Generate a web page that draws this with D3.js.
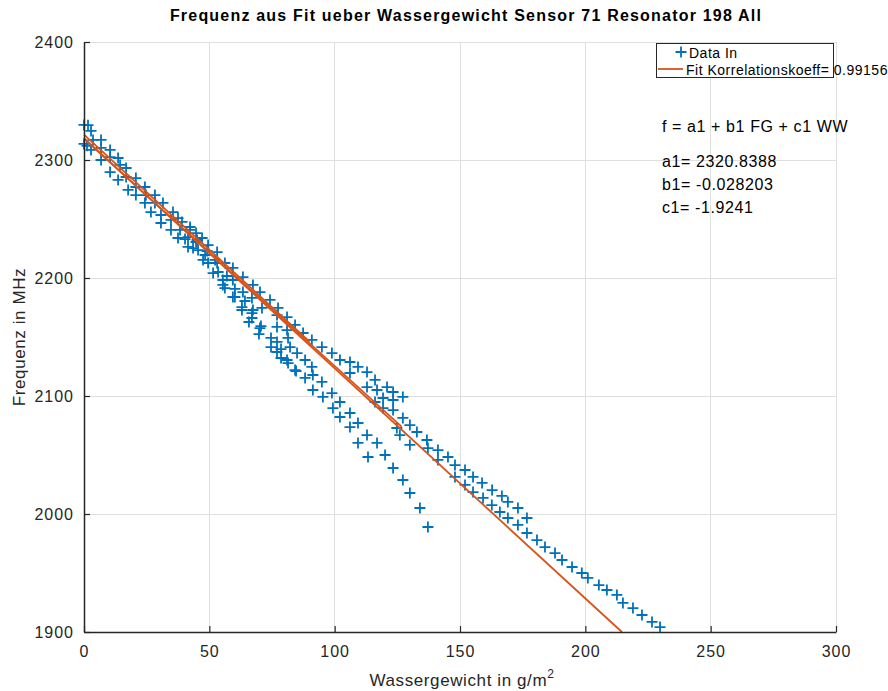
<!DOCTYPE html>
<html>
<head>
<meta charset="utf-8">
<script src="https://cdn.jsdelivr.net/npm/d3@7"></script>
<style>
  html, body { margin: 0; padding: 0; background: #fff; }
  svg { display: block; font-family: "Liberation Sans", Arial, Helvetica, sans-serif; }
</style>
</head>
<body>
<svg id="chart" width="888" height="691"></svg>
<script>
// ---------- data ----------
const titleText = "Frequenz aus Fit ueber Wassergewicht Sensor 71 Resonator 198 All";
const xTicks = [0, 50, 100, 150, 200, 250, 300];
const yTicks = [1900, 2000, 2100, 2200, 2300, 2400];

// measured points: Wassergewicht (g/m^2) and Frequenz (MHz)
const dataWW = [
  0, 1.6, 2.8, 0, 1.2, 3.6, 6.8, 2.8, 6.8, 10.4, 6.8, 10.4, 13.6, 10.4, 14.4, 16.8, 13.6, 16.8, 20.7, 17.6,
  20.7, 24.3, 20.7, 24.7, 28.3, 24.3, 28.3, 31.5, 26.7, 30.7, 35.5, 30.7, 34.7, 37.5, 34.7, 38.3, 42.3, 37.5,
  41.5, 44.7, 41.5, 44.7, 45.5,
  47.1, 49.5, 53.1, 48.3, 52.3, 56.2, 49.5, 59.4, 53.5, 63.4, 55.4, 59.4, 67.4, 56.2, 63.4, 70.2, 60.2, 67.0,
  74.2, 63.0, 67.4, 71.0, 77.4, 67.0, 70.2,
  77.0, 81.0, 84.2, 77.0, 81.0, 87.4, 77.0, 81.4, 90.9, 82.2, 94.9, 77.0, 85.0, 81.0, 88.2, 98.9, 84.2, 90.9,
  102.1, 106.1, 88.2, 91.3, 109.3, 112.9, 106.1, 94.9, 91.3, 98.9, 95.3, 102.1, 99.3, 102.1, 106.1, 109.3,
  106.1, 112.9, 109.3, 116.9, 113.3, 120.1, 116.1, 112.9, 120.9, 116.9, 123.3, 127.2, 119.3, 123.3, 116.1,
  119.3, 123.3, 127.2, 130.0, 124.8, 126.0, 130.0, 132.8,
  123.3, 127.2, 130.0, 134.0, 137.2, 136.8, 137.2, 141.2, 141.2,
  145.2, 148.0, 152.0, 155.2, 158.8, 162.8, 166.7, 169.1, 173.1, 176.7, 148.0, 152.0, 155.2, 159.2, 162.7,
  165.9, 169.1, 173.1, 176.7, 180.7, 183.9, 187.9, 190.7, 194.7, 198.6, 201.0, 205.4, 208.6, 212.6, 215.0,
  219.0, 222.6, 226.6, 229.8,
  39.1, 42.3, 40.3, 45.1, 43.5, 49.1, 47.5, 53.1, 51.5, 57.0, 55.4, 60.2, 59.4, 64.2, 63.0, 67.0,
  65.8, 70.6, 69.8, 74.6, 74.6, 78.6, 78.6, 81.4, 84.6
];
const dataF = [
  2329.7, 2329.5, 2324.6, 2313.6, 2312.0, 2317.0, 2317.0, 2308.5, 2310.2, 2308.5, 2300.0, 2302.5, 2301.7, 2289.8, 2295.8, 2293.2, 2283.1, 2285.6, 2284.7, 2274.6,
  2277.1, 2277.1, 2270.3, 2270.3, 2270.3, 2263.6, 2263.6, 2263.6, 2255.9, 2253.4, 2255.9, 2246.6, 2249.2, 2250.8, 2240.7, 2240.7, 2243.2, 2233.9,
  2234.7, 2238.1, 2226.3, 2230.5, 2223.7,
  2233.9, 2227.9, 2222.0, 2219.5, 2215.3, 2212.7, 2212.7, 2208.5, 2205.1, 2200.8, 2198.3, 2198.3, 2194.1, 2191.5, 2188.1, 2188.1, 2183.9, 2183.1,
  2181.4, 2175.4, 2172.9, 2174.6, 2174.6, 2166.1, 2157.6,
  2168.6, 2166.9, 2160.2, 2158.5, 2155.9, 2153.4, 2145.8, 2149.2, 2147.5, 2141.5, 2141.5, 2137.3, 2136.4, 2130.5, 2130.5, 2136.4, 2122.0, 2124.6,
  2130.5, 2128.8, 2115.3, 2117.8, 2124.6, 2120.3, 2119.5, 2111.9, 2105.1, 2102.5, 2099.2, 2094.9, 2089.8, 2082.2, 2085.6, 2077.1,
  2073.7, 2066.9, 2060.2, 2060.2, 2048.3, 2050.0, 2113.6, 2107.6, 2107.6, 2105.1, 2103.4, 2099.2, 2098.3, 2096.6, 2094.9,
  2089.8, 2088.1, 2081.4, 2075.4, 2072.9, 2066.9, 2058.5, 2069.5,
  2039.0, 2028.8, 2017.8, 2005.1, 1989.0, 2062.7, 2055.9, 2054.2, 2045.8,
  2048.3, 2041.5, 2037.3, 2031.4, 2026.3, 2020.3, 2015.3, 2010.2, 2005.1, 1996.6, 2031.4, 2024.6, 2018.6, 2013.6, 2007.6,
  2001.7, 1996.6, 1990.7, 1983.9, 1977.9, 1972.0, 1966.9, 1961.0, 1955.1, 1950.0, 1945.8, 1939.8, 1935.6, 1931.4, 1924.6,
  1920.3, 1914.4, 1908.5, 1904.2,
  2247.5, 2240.7, 2233.0, 2232.2, 2225.4, 2222.9, 2215.3, 2212.7, 2204.2, 2201.7, 2194.1, 2190.7, 2183.9, 2180.5, 2172.9, 2170.3,
  2162.7, 2159.3, 2152.5, 2149.2, 2141.5, 2139.8, 2132.2, 2127.9, 2121.1
];

// fit lines (end points)
const fit1WW = [0, 214.6];
const fit1F  = [2318.5, 1900];
const fit2WW = [0, 126.7];
const fit2F  = [2318, 2074];
const fit3WW = [0, 90];
const fit3F  = [2321.5, 2146];

const legendLabels = ["Data In", "Fit Korrelationskoeff= 0.99156"];
const annotationLines = ["f = a1 + b1 FG + c1 WW", "a1= 2320.8388", "b1= -0.028203", "c1= -1.9241"];

// ---------- drawing ----------
const blue = "#0072BD", orange = "#D95319", axisCol = "#262626", gridCol = "#dfdfdf";
const svg = d3.select("#chart");
const x = d3.scaleLinear().domain([0, 300]).range([84, 836]);
const y = d3.scaleLinear().domain([1900, 2400]).range([632, 42]);

// grid
svg.append("g").selectAll("line").data(xTicks).join("line")
  .attr("x1", d => x(d)).attr("x2", d => x(d)).attr("y1", y(1900)).attr("y2", y(2400))
  .attr("stroke", gridCol).attr("stroke-width", 1).attr("shape-rendering", "crispEdges");
svg.append("g").selectAll("line").data(yTicks).join("line")
  .attr("x1", x(0)).attr("x2", x(300)).attr("y1", d => y(d)).attr("y2", d => y(d))
  .attr("stroke", gridCol).attr("stroke-width", 1).attr("shape-rendering", "crispEdges");

// data markers
const pts = dataWW.map((w, i) => [w, dataF[i]]);
const m = 5.5;
svg.append("g").selectAll("path").data(pts).join("path")
  .attr("d", d => `M${x(d[0]) - m},${y(d[1])}H${x(d[0]) + m}M${x(d[0])},${y(d[1]) - m}V${y(d[1]) + m}`)
  .attr("stroke", blue).attr("stroke-width", 1.8).attr("fill", "none");

// fit lines
const line = d3.line().x(d => x(d[0])).y(d => y(d[1]));
[[fit1WW, fit1F], [fit2WW, fit2F], [fit3WW, fit3F]].forEach(([ws, fs]) => {
  svg.append("path").datum(ws.map((w, i) => [w, fs[i]]))
    .attr("d", line).attr("stroke", orange).attr("stroke-width", 1.8).attr("fill", "none");
});

// axes
const gx = svg.append("g").attr("transform", `translate(0,${y(1900)})`)
  .call(d3.axisBottom(x).tickValues(xTicks).tickFormat(d3.format("d")).tickSizeInner(-6).tickSizeOuter(0).tickPadding(14));
const gy = svg.append("g").attr("transform", `translate(${x(0)},0)`)
  .call(d3.axisLeft(y).tickValues(yTicks).tickFormat(d3.format("d")).tickSizeInner(-6).tickSizeOuter(0).tickPadding(10));
[gx, gy].forEach(g => {
  g.select(".domain").attr("stroke", axisCol).attr("stroke-width", 1.5);
  g.selectAll(".tick line").attr("stroke", axisCol).attr("stroke-width", 1.2);
  g.selectAll(".tick text").attr("fill", axisCol).style("font-size", "16px")
    .style("letter-spacing", "1px")
    .style("font-family", "'Liberation Sans', Arial, sans-serif");
});

// title
svg.append("text").attr("x", 466).attr("y", 21).attr("text-anchor", "middle")
  .style("font-size", "16px").style("font-weight", "bold").style("letter-spacing", "1.2px")
  .attr("fill", "#000").text(titleText);

// axis labels
const xl = svg.append("text").attr("x", 462).attr("y", 686).attr("text-anchor", "middle")
  .style("font-size", "17px").style("letter-spacing", "0.6px").attr("fill", axisCol);
xl.append("tspan").text("Wassergewicht in g/m");
xl.append("tspan").attr("dy", -8).style("font-size", "12px").text("2");
svg.append("text").attr("transform", "translate(25,337) rotate(-90)").attr("text-anchor", "middle")
  .style("font-size", "17px").style("letter-spacing", "0.6px").attr("fill", axisCol).text("Frequenz in MHz");

// legend
const lg = svg.append("g");
lg.append("rect").attr("x", 656.5).attr("y", 43.5).attr("width", 177).attr("height", 34)
  .attr("fill", "#fff").attr("stroke", axisCol).attr("stroke-width", 1);
lg.append("path").attr("d", "M675.5,52H686.5M681,46.5V57.5").attr("stroke", blue).attr("stroke-width", 1.8);
lg.append("text").attr("x", 689).attr("y", 58).style("font-size", "14px").style("letter-spacing", "0.5px")
  .attr("fill", "#000").text(legendLabels[0]);
lg.append("line").attr("x1", 658).attr("x2", 683).attr("y1", 69).attr("y2", 69)
  .attr("stroke", orange).attr("stroke-width", 1.8);
lg.append("text").attr("x", 686).attr("y", 75).style("font-size", "14px").style("letter-spacing", "0.5px")
  .attr("fill", "#000").text(legendLabels[1]);

// annotation text
const annY = [132, 167, 190, 213];
annotationLines.forEach((t, i) => {
  svg.append("text").attr("x", 662).attr("y", annY[i]).style("font-size", "16px")
    .style("letter-spacing", "0.6px").attr("fill", "#000").text(t);
});
</script>
</body>
</html>
